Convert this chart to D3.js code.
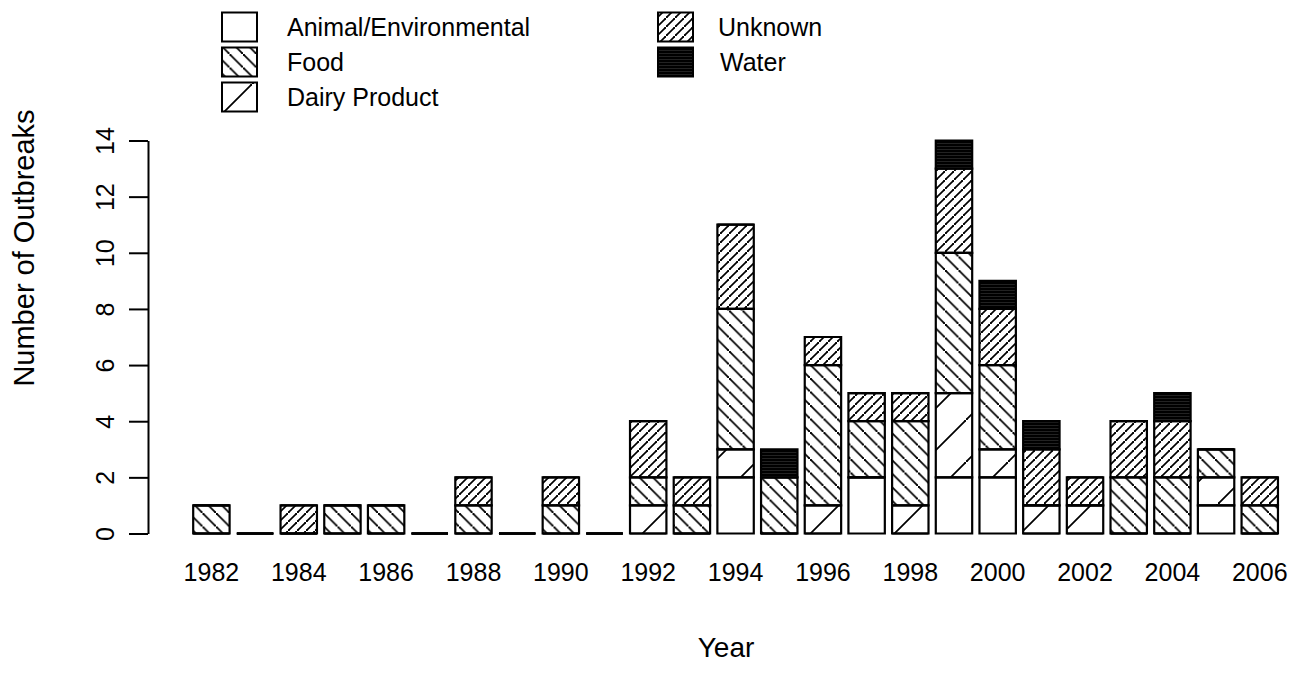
<!DOCTYPE html>
<html><head><meta charset="utf-8">
<script src="https://cdn.jsdelivr.net/npm/d3@7"></script>
<style>
body{margin:0;background:#fff}
text{font-family:"Liberation Sans",Arial,Helvetica,sans-serif;fill:#000}
</style>
</head><body>
<svg id="chart" width="1297" height="685"></svg>
<script>
// ---- data ----
const years = [1982,1983,1984,1985,1986,1987,1988,1989,1990,1991,1992,1993,1994,1995,1996,1997,1998,1999,2000,2001,2002,2003,2004,2005,2006];
const animal  = [0,0,0,0,0,0,0,0,0,0,0,0,2,0,0,2,0,2,2,0,0,0,0,1,0];
const dairy   = [0,0,0,0,0,0,0,0,0,0,1,0,1,0,1,0,1,3,1,1,1,0,0,1,0];
const food    = [1,0,0,1,1,0,1,0,1,0,1,1,5,2,5,2,3,5,3,0,0,2,2,1,1];
const unknown = [0,0,1,0,0,0,1,0,1,0,2,1,3,0,1,1,1,3,2,2,1,2,2,0,1];
const water   = [0,0,0,0,0,0,0,0,0,0,0,0,0,1,0,0,0,1,1,1,0,0,1,0,0];
const stackKeys = ["animal","dairy","food","unknown","water"];
const legendLabels = ["Animal/Environmental","Food","Dairy Product","Unknown","Water"];
const legendKeys = ["animal","food","dairy","unknown","water"];
const yTicks = [0,2,4,6,8,10,12,14];
const xTickLabels = [1982,1984,1986,1988,1990,1992,1994,1996,1998,2000,2002,2004,2006];
const xTitle = "Year";
const yTitle = "Number of Outbreaks";

// ---- build ----
const svg = d3.select("#chart");
const defs = svg.append("defs");

function hatch(id, size, lines, sw) {
  const p = defs.append("pattern").attr("id", id).attr("patternUnits","userSpaceOnUse")
    .attr("width", size).attr("height", size);
  lines.forEach(l => p.append("line").attr("x1",l[0]).attr("y1",l[1]).attr("x2",l[2]).attr("y2",l[3])
    .attr("stroke","#000").attr("stroke-width",sw).attr("stroke-linecap","square"));
}
function backslash(id, s, sw){ hatch(id, s, [[0,0,s,s],[-1,-1,1,1],[s-1,s-1,s+1,s+1]], sw); }
function slash(id, s, sw){ hatch(id, s, [[0,s,s,0],[-1,s+1,1,s-1],[s-1,1,s+1,-1]], sw); }
backslash("p-food", 13.5, 1.7);
slash("p-unknown", 9, 1.6);
slash("p-dairy", 42, 1.7);
(function(){
  const p = defs.append("pattern").attr("id","p-water").attr("patternUnits","userSpaceOnUse")
    .attr("width",6).attr("height",3);
  p.append("rect").attr("width",6).attr("height",3).attr("fill","#555");
  p.append("rect").attr("y",0).attr("width",6).attr("height",2.6).attr("fill","#000");
})();
const fills = {animal:"none", food:"url(#p-food)", dairy:"url(#p-dairy)", unknown:"url(#p-unknown)", water:"url(#p-water)"};

const x = d3.scaleBand().domain(years).range([189.56, 1281.6]).paddingInner(1/6).paddingOuter(1/12);
const y = d3.scaleLinear().domain([0,14]).range([533.5, 140.5]);

const rows = years.map((yr,i) => ({year:yr, animal:animal[i], dairy:dairy[i], food:food[i], unknown:unknown[i], water:water[i]}));
const series = d3.stack().keys(stackKeys)(rows);

function rectPath(x0, y0, w, h){ return `M${x0},${y0}h${w}v${h}h${-w}Z`; }

const gBars = svg.append("g");
series.forEach(s => {
  gBars.selectAll(null).data(s).enter().append("path")
    .attr("d", d => {
      const x0 = x(d.data.year), w = x.bandwidth();
      const yt = y(d[1]), yb = y(d[0]);
      return rectPath(x0, yt, w, yb - yt);
    })
    .attr("fill", fills[s.key])
    .attr("stroke","#000").attr("stroke-width",2.2).attr("stroke-linejoin","miter");
});

// y axis
const yAxis = svg.append("g").attr("transform","translate(148,0)")
  .call(d3.axisLeft(y).tickValues(yTicks).tickSize(19).tickSizeOuter(0).tickFormat(d3.format("d")));
yAxis.select(".domain").attr("stroke-width",2);
yAxis.selectAll(".tick line").attr("stroke-width",2);
yAxis.selectAll(".tick text")
  .attr("x",0).attr("dy","0.36em")
  .attr("transform","translate(-43,0) rotate(-90)")
  .attr("text-anchor","middle")
  .style("font-size","25px").style("font-family",'"Liberation Sans",Arial,sans-serif');

// x axis labels (no line)
const xAxis = svg.append("g").attr("transform","translate(0,533.5)")
  .call(d3.axisBottom(x).tickValues(xTickLabels).tickSize(0).tickPadding(0));
xAxis.select(".domain").remove();
xAxis.selectAll(".tick text").attr("y",38).attr("dy","0.36em")
  .style("font-size","25px").style("font-family",'"Liberation Sans",Arial,sans-serif');

// titles
svg.append("text").attr("x",726).attr("y",647).attr("dy","0.36em").attr("text-anchor","middle")
  .style("font-size","28px").text(xTitle);
svg.append("text").attr("transform","translate(24,248) rotate(-90)").attr("dy","0.36em").attr("text-anchor","middle")
  .style("font-size","29px").text(yTitle);

// legend
const legendPos = [
  {bx:222, tx:287, cy:27}, {bx:222, tx:287, cy:62}, {bx:222, tx:287, cy:97},
  {bx:658, tx:718, cy:27}, {bx:658, tx:720, cy:62}
];
const gLeg = svg.append("g");
legendKeys.forEach((k,i) => {
  const p = legendPos[i];
  gLeg.append("path").attr("d", rectPath(p.bx, p.cy-14.5, 35, 29))
    .attr("fill", fills[k] === "none" ? "#fff" : fills[k]).attr("stroke","#000").attr("stroke-width",2);
  gLeg.append("text").attr("x",p.tx).attr("y",p.cy).attr("dy","0.36em").style("font-size","25px").text(legendLabels[i]);
});
</script>
</body></html>
